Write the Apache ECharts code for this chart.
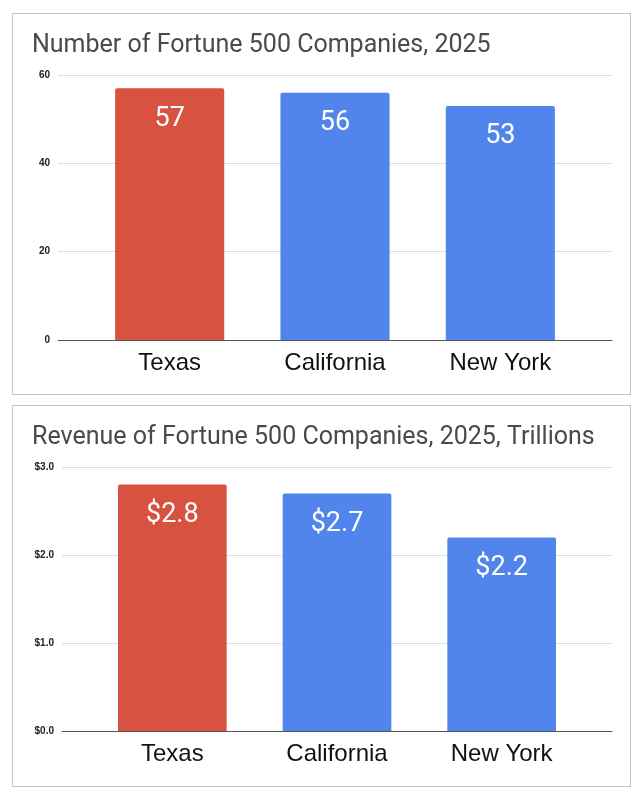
<!DOCTYPE html>
<html>
<head>
<meta charset="utf-8">
<script src="https://cdn.jsdelivr.net/npm/echarts@6/dist/echarts.min.js"></script>
<style>
  html, body { margin: 0; padding: 0; background: #fff; }
  .panel {
    position: absolute;
    left: 12px;
    width: 617px;
    height: 380px;
    border: 1px solid #c4c4c4;
  }
  #chart_1 { top: 13px; }
  #chart_2 { top: 405px; }
</style>
</head>
<body>
<div id="chart_1" class="panel"></div>
<div id="chart_2" class="panel"></div>
<script>
const states = ["Texas", "California", "New York"];
const companies = [57, 56, 53];
const revenue = [2.8, 2.7, 2.2];
const barColors = ["#d75240", "#5185ec", "#5185ec"];

const chart1 = echarts.init(document.getElementById("chart_1"));
const chart2 = echarts.init(document.getElementById("chart_2"));

const buildOption = (title, values, yMax, yStep, fmt, g0, g1, bottom) => ({
  animation: false,
  title: {
    text: title,
    left: 14,
    top: 14,
    textStyle: { fontFamily: "Roboto", fontSize: 25, fontWeight: "normal", color: "#4a4a4a" },
  },
  grid: [
    { left: g0[0], right: g0[1], top: 61, bottom: bottom },
    { left: g1[0], right: g1[1], top: 61, bottom: bottom },
  ],
  xAxis: [
    {
      type: "category",
      gridIndex: 0,
      data: states,
      axisLabel: { show: false },
      axisTick: { show: false },
      axisLine: { lineStyle: { color: "#555", width: 1 } },
      z: 5,
    },
    {
      type: "category",
      gridIndex: 1,
      data: states,
      axisTick: { show: false },
      axisLine: { show: false },
      axisLabel: {
        margin: 11,
        fontFamily: "Liberation Sans",
        fontSize: 24,
        color: "#111",
      },
    },
  ],
  yAxis: [
    {
      type: "value",
      gridIndex: 0,
      min: 0,
      max: yMax,
      interval: yStep,
      axisLine: { show: false },
      axisTick: { show: false },
      splitLine: { lineStyle: { color: "#dedede" } },
      axisLabel: {
        margin: 8,
        fontFamily: "Liberation Sans",
        fontSize: 10,
        fontWeight: "bold",
        color: "#222",
        formatter: fmt,
      },
    },
    {
      type: "value",
      gridIndex: 1,
      min: 0,
      max: yMax,
      interval: yStep,
      show: false,
    },
  ],
  series: [
    {
      type: "bar",
      xAxisIndex: 1,
      yAxisIndex: 1,
      data: values.map((v, i) => ({ value: v, itemStyle: { color: barColors[i] } })),
      barWidth: "66%",
      itemStyle: { borderRadius: [2, 2, 0, 0] },
      label: {
        show: true,
        position: "insideTop",
        distance: 17,
        fontFamily: "Roboto",
        fontSize: 27,
        color: "#fff",
        formatter: (p) => fmt(p.value),
      },
    },
  ],
});

chart1.setOption(buildOption(
  "Number of Fortune 500 Companies, 2025",
  companies, 60, 20,
  (v) => String(v),
  [45, 18], [74, 47], 54
));

chart2.setOption(buildOption(
  "Revenue of Fortune 500 Companies, 2025, Trillions",
  revenue, 3, 1,
  (v) => "$" + Number(v).toFixed(1),
  [49, 18], [77, 46], 55
));
</script>
</body>
</html>
